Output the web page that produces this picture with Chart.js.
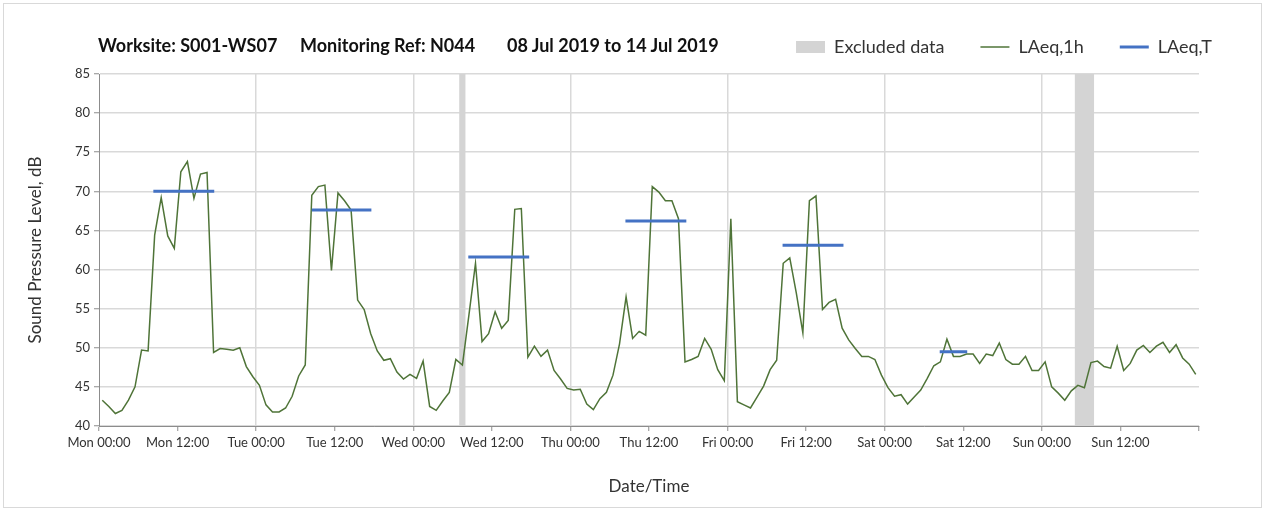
<!DOCTYPE html>
<html>
<head>
<meta charset="utf-8">
<script src="https://cdn.jsdelivr.net/npm/chart.js@4"></script>
<style>
  body { margin: 0; background: #fff; }
  #wrap { position: relative; width: 1266px; height: 517px; font-family: Lato, "Open Sans", sans-serif; }
  #frame { position: absolute; left: 3px; top: 3px; width: 1257px; height: 503px; border: 1px solid #d9d9d9; pointer-events: none; }
  .ttl { position: absolute; top: 34px; font-size: 18px; font-weight: bold; color: #111; white-space: nowrap; line-height: 22px; }
  canvas { position: absolute; left: 0; top: 0; }
</style>
</head>
<body>
<div id="wrap">
  <canvas id="chart" width="1266" height="517"></canvas>
  <div class="ttl" style="left:98px">Worksite: S001-WS07</div>
  <div class="ttl" style="left:300px">Monitoring Ref: N044</div>
  <div class="ttl" style="left:507px">08 Jul 2019 to 14 Jul 2019</div>
  <div id="frame"></div>
</div>
<script>
// tick labels
const dayNames = ["Mon", "Tue", "Wed", "Thu", "Fri", "Sat", "Sun"];
const hourLabels = ["00:00", "12:00"];

// hourly LAeq,1h values, Mon 00:00 -> Sun 23:00
const laeq1h = [
    43.3, 42.5, 41.6, 42.0, 43.3, 45.0, 49.7, 49.6, 64.4, 69.2, 64.3, 62.7,
    72.5, 73.8, 69.1, 72.2, 72.4, 49.4, 49.9, 49.8, 49.7, 50.0, 47.6, 46.3,
    45.2, 42.7, 41.8, 41.8, 42.3, 43.8, 46.4, 47.8, 69.5, 70.6, 70.8, 59.9,
    69.8, 68.8, 67.6, 56.1, 54.9, 51.8, 49.6, 48.4, 48.6, 46.9, 46.0, 46.6,
    46.1, 48.3, 42.5, 42.0, 43.2, 44.3, 48.5, 47.8, 54.2, 60.8, 50.8, 51.8,
    54.6, 52.5, 53.5, 67.7, 67.8, 48.8, 50.2, 48.9, 49.7, 47.1, 46.0, 44.8,
    44.6, 44.7, 42.8, 42.1, 43.5, 44.3, 46.5, 50.5, 56.5, 51.2, 52.1, 51.6,
    70.6, 69.9, 68.8, 68.8, 66.5, 48.2, 48.5, 48.9, 51.2, 49.8, 47.2, 45.8,
    66.5, 43.1, 42.7, 42.3, 43.7, 45.1, 47.2, 48.4, 60.8, 61.5, 57.0, 51.9,
    68.8, 69.4, 54.9, 55.8, 56.2, 52.5, 51.0, 49.9, 48.9, 48.9, 48.5, 46.5,
    44.9, 43.8, 44.0, 42.8, 43.7, 44.6, 46.1, 47.7, 48.2, 51.1, 48.9, 48.9,
    49.2, 49.2, 48.0, 49.2, 49.0, 50.6, 48.5, 47.9, 47.9, 48.9, 47.1, 47.1,
    48.2, 45.0, 44.2, 43.3, 44.5, 45.2, 44.9, 48.1, 48.3, 47.6, 47.4, 50.2,
    47.1, 48.0, 49.7, 50.3, 49.4, 50.2, 50.7, 49.4, 50.4, 48.7, 47.9, 46.6
];

// LAeq,T periods (hours from Mon 00:00) and levels
const laeqTStart = [8.3, 32.5, 56.4, 80.4, 104.4, 128.4];
const laeqTEnd = [17.6, 41.6, 65.7, 89.7, 113.7, 132.6];
const laeqT = [70.0, 67.6, 61.6, 66.2, 63.1, 49.5];

// excluded data periods (hours)
const excludedStart = [55, 149];
const excludedEnd = [56, 152];

const yMin = 40, yMax = 85, yStep = 5;

const hourlyPoints = laeq1h.map((v, i) => ({ x: i + 0.5, y: v }));
const periodPoints = [];
laeqT.forEach((v, k) => {
    periodPoints.push({ x: laeqTStart[k], y: v });
    periodPoints.push({ x: laeqTEnd[k], y: v });
    periodPoints.push({ x: laeqTEnd[k], y: null });
});

const bandSets = excludedStart.map((s, k) => ({
    label: "Excluded data",
    data: [{ x: s, y: yMax }, { x: excludedEnd[k], y: yMax }],
    fill: "start",
    backgroundColor: "#d4d4d4",
    borderColor: "#d4d4d4",
    borderWidth: 0,
    pointRadius: 0,
    pointBorderWidth: 0,
    pointStyle: "rect",
    order: 10
}));

const tickFont = { family: "Lato", size: 13 };

// lift the legend onto the title row
const legendShift = {
    id: "legendShift",
    afterLayout(chart) {
        chart.legend.top -= 8;
        chart.legend.bottom -= 8;
    }
};

new Chart(document.getElementById("chart"), {
    type: "line",
    data: {
        datasets: [
            ...bandSets,
            {
                label: "LAeq,1h",
                data: hourlyPoints,
                borderColor: "#4f7438",
                borderWidth: 1.5,
                pointRadius: 0,
                pointBorderWidth: 1.5,
                pointStyle: "line",
                tension: 0,
                order: 2
            },
            {
                label: "LAeq,T",
                data: periodPoints,
                borderColor: "#4472c4",
                borderWidth: 3,
                borderCapStyle: "butt",
                pointRadius: 0,
                pointBorderWidth: 3,
                pointStyle: "line",
                spanGaps: false,
                order: 1
            }
        ]
    },
    plugins: [legendShift],
    options: {
        responsive: false,
        animation: false,
        layout: { padding: { top: 2, right: 18, left: 0, bottom: 0 } },
        plugins: {
            tooltip: { enabled: false },
            legend: {
                position: "top",
                align: "end",
                labels: {
                    usePointStyle: true,
                    pointStyleWidth: 29,
                    boxHeight: 12,
                    padding: 36,
                    color: "#333",
                    font: { family: "Lato", size: 18 },
                    filter: (item) => item.datasetIndex !== 1,
                    sort: (a, b) => a.datasetIndex - b.datasetIndex
                }
            }
        },
        scales: {
            x: {
                type: "linear",
                min: 0,
                max: 168,
                afterFit: (scale) => { scale.height = 91; scale.paddingRight = 67; },
                ticks: {
                    stepSize: 12,
                    autoSkip: false,
                    maxRotation: 0,
                    padding: 4,
                    color: "#333",
                    font: tickFont,
                    callback: (v) => v >= 168 ? "" : dayNames[Math.floor(v / 24)] + " " + hourLabels[(v % 24) / 12]
                },
                grid: {
                    color: (ctx) => (ctx.tick && ctx.tick.value % 24 === 0 && ctx.tick.value > 0 && ctx.tick.value < 168) ? "#d9d9d9" : "rgba(0,0,0,0)",
                    lineWidth: 1.5,
                    tickColor: "#8c8c8c",
                    tickWidth: 1,
                    tickLength: 5
                },
                border: { color: "#8c8c8c", width: 1 },
                title: {
                    display: true,
                    text: "Date/Time",
                    color: "#333",
                    font: { family: "Lato", size: 17 },
                    padding: { top: 0, bottom: 20 }
                }
            },
            y: {
                min: yMin,
                max: yMax,
                afterFit: (scale) => { scale.width = 99; scale.paddingTop = 74; },
                ticks: {
                    stepSize: yStep,
                    padding: 4,
                    color: "#333",
                    font: tickFont
                },
                grid: {
                    color: "#d9d9d9",
                    lineWidth: 1.5,
                    tickColor: "#8c8c8c",
                    tickWidth: 1,
                    tickLength: 5
                },
                border: { color: "#8c8c8c", width: 1 },
                title: {
                    display: true,
                    text: "Sound Pressure Level, dB",
                    color: "#333",
                    font: { family: "Lato", size: 17 },
                    padding: { top: 25, bottom: 0 }
                }
            }
        }
    }
});
</script>
</body>
</html>
